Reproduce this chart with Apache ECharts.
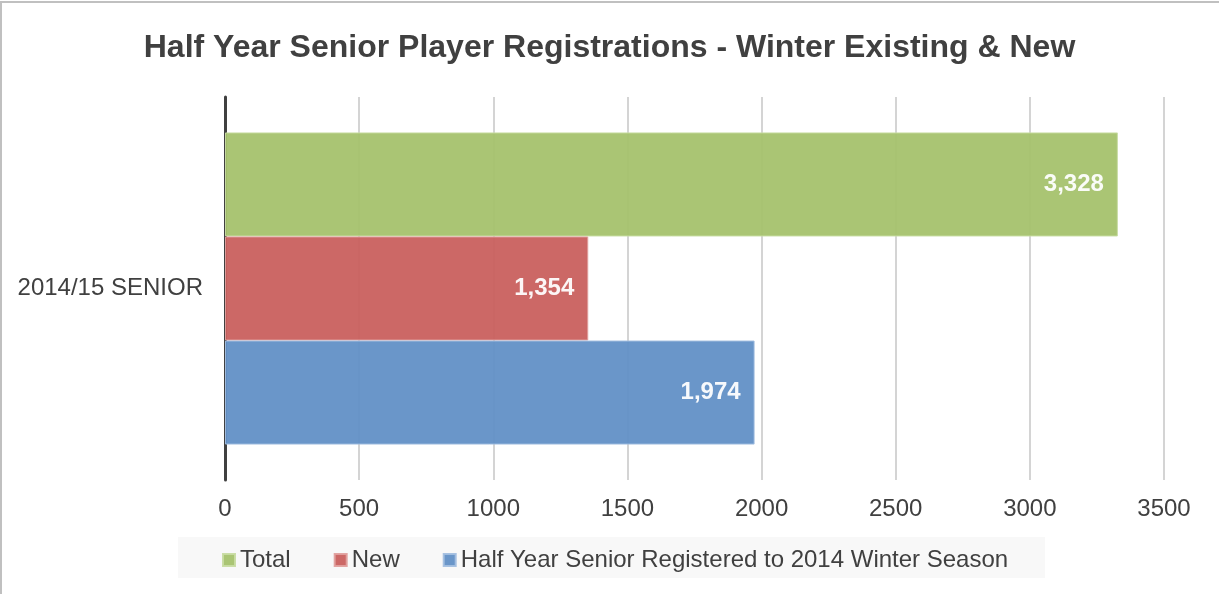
<!DOCTYPE html>
<html><head><meta charset="utf-8">
<script src="https://cdn.jsdelivr.net/npm/echarts@6/dist/echarts.min.js"></script>
<style>html,body{margin:0;padding:0;background:#fff}#c{width:1219px;height:594px}</style>
</head><body><div id="c"></div>
<script>
const categories = ['2014/15 SENIOR'];
const seriesNames = ['Total', 'New', 'Half Year Senior Registered to 2014 Winter Season'];
const totalValues = [3328];
const newValues = [1354];
const halfYearValues = [1974];
const xTicks = [0, 500, 1000, 1500, 2000, 2500, 3000, 3500];
const legendOrder = ['Total', 'New', 'Half Year Senior Registered to 2014 Winter Season'];

const colors = {Total: '#a5c26d', New: '#c9605e', Half: '#6290c6'};
const borders = {Total: '#c8dca2', New: '#e0a09e', Half: '#a3bfe0'};
const fmt = v => v.toLocaleString('en-US');
const font = '"Liberation Sans", Arial, sans-serif';

function mk(name, data, c, b) {
  return {
    name, type: 'bar', data, barGap: '0%', barCategoryGap: '18.5%',
    itemStyle: {color: c, opacity: 0.95, borderColor: b, borderWidth: 1},
    label: {show: true, position: 'insideRight', distance: 14, color: '#fff', fontWeight: 'bold',
      fontSize: 24, fontFamily: font, formatter: p => fmt(p.value)},
    emphasis: {disabled: true}
  };
}

const chart = echarts.init(document.getElementById('c'), null, {renderer: 'canvas'});
chart.setOption({
  animation: false,
  title: {text: 'Half Year Senior Player Registrations - Winter Existing & New', left: 'center', top: 27,
    textStyle: {fontSize: 32, fontWeight: 'bold', color: '#404040', fontFamily: font}},
  graphic: [
    {type: 'rect', shape: {x: 1, y: 2, width: 1230, height: 600}, style: {fill: 'none', stroke: '#c0c0c0', lineWidth: 2}, silent: true, z: -10},
    {type: 'rect', shape: {x: 178, y: 537, width: 867, height: 41}, style: {fill: '#f8f8f8'}, silent: true, z: -5}
  ],
  legend: {
    data: legendOrder, left: 217, top: 543, itemWidth: 12, itemHeight: 12, itemGap: 43,
    icon: 'rect', textStyle: {fontSize: 24, color: '#404040', fontFamily: font},
    selectedMode: false
  },
  grid: {left: 225, right: 55, top: 97, bottom: 114, containLabel: false},
  xAxis: {
    type: 'value', min: 0, max: 3500, interval: 500,
    axisLine: {show: false}, axisTick: {show: false},
    splitLine: {show: true, lineStyle: {color: '#c6c6c6', width: 1.5}},
    axisLabel: {fontSize: 24, color: '#404040', fontFamily: font, margin: 17,
      formatter: v => xTicks.includes(v) ? String(v) : ''}
  },
  yAxis: {
    type: 'category', data: categories,
    axisLine: {show: true, lineStyle: {color: '#404040', width: 3}},
    axisTick: {show: false},
    axisLabel: {fontSize: 24, color: '#404040', fontFamily: font, margin: 22}
  },
  series: [
    mk(seriesNames[0], totalValues, colors.Total, borders.Total),
    mk(seriesNames[1], newValues, colors.New, borders.New),
    mk(seriesNames[2], halfYearValues, colors.Half, borders.Half)
  ]
});
</script></body></html>
